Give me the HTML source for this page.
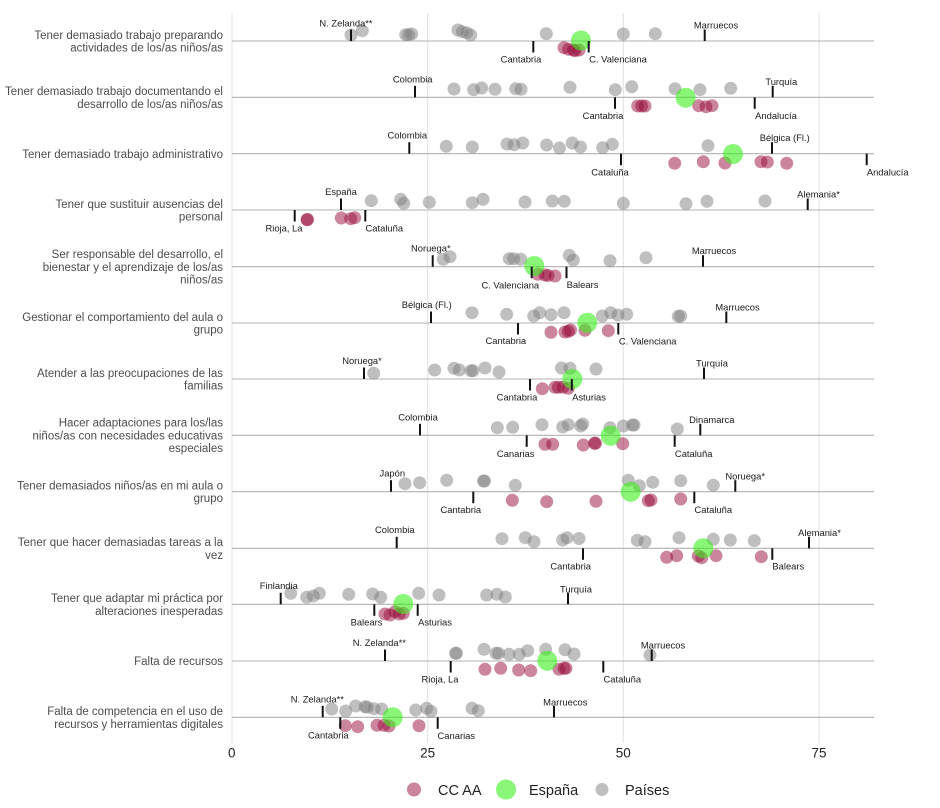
<!DOCTYPE html>
<html><head><meta charset="utf-8"><style>
html,body{margin:0;padding:0;background:#fff;}
svg{display:block;}
text{font-family:"Liberation Sans",Arial,sans-serif;}
.lab{font-size:11.5px;fill:#4d4d4d;text-anchor:end;}
.ann{font-size:9.4px;fill:#1a1a1a;text-anchor:middle;}
.ax{font-size:13.5px;fill:#222;text-anchor:middle;}
.leg{font-size:14.5px;fill:#222;}
.g{fill:#808080;fill-opacity:.5;}
.r{fill:#980b3c;fill-opacity:.5;}
.e{fill:#3cf01e;fill-opacity:.6;}
.tk{stroke:#111;stroke-width:2;}
</style></head><body>
<svg width="940" height="808" viewBox="0 0 940 808" xmlns="http://www.w3.org/2000/svg">
<g stroke="#e3e3e3" stroke-width="1.1">
<line x1="232" y1="13" x2="232" y2="743"/>
<line x1="427.7" y1="13" x2="427.7" y2="743"/>
<line x1="623.3" y1="13" x2="623.3" y2="743"/>
<line x1="819" y1="13" x2="819" y2="743"/>
</g>
<g stroke="#b0b0b0" stroke-width="1.1">
<line x1="232" y1="41" x2="874" y2="41"/>
<line x1="232" y1="97.3" x2="874" y2="97.3"/>
<line x1="232" y1="153.7" x2="874" y2="153.7"/>
<line x1="232" y1="210" x2="874" y2="210"/>
<line x1="232" y1="266.7" x2="874" y2="266.7"/>
<line x1="232" y1="323" x2="874" y2="323"/>
<line x1="232" y1="379" x2="874" y2="379"/>
<line x1="232" y1="435.3" x2="874" y2="435.3"/>
<line x1="232" y1="491.7" x2="874" y2="491.7"/>
<line x1="232" y1="548.3" x2="874" y2="548.3"/>
<line x1="232" y1="604.3" x2="874" y2="604.3"/>
<line x1="232" y1="661" x2="874" y2="661"/>
<line x1="232" y1="717.3" x2="874" y2="717.3"/>
</g>

<!-- left labels -->
<text class="lab" x="223" y="38.8">Tener demasiado trabajo preparando</text>
<text class="lab" x="223" y="51.5">actividades de los/as niños/as</text>
<text class="lab" x="223" y="95.1">Tener demasiado trabajo documentando el</text>
<text class="lab" x="223" y="107.8">desarrollo de los/as niños/as</text>
<text class="lab" x="223" y="157.8">Tener demasiado trabajo administrativo</text>
<text class="lab" x="223" y="207.8">Tener que sustituir ausencias del</text>
<text class="lab" x="223" y="220.5">personal</text>
<text class="lab" x="223" y="258.1">Ser responsable del desarrollo, el</text>
<text class="lab" x="223" y="270.8">bienestar y el aprendizaje de los/as</text>
<text class="lab" x="223" y="283.5">niños/as</text>
<text class="lab" x="223" y="320.8">Gestionar el comportamiento del aula o</text>
<text class="lab" x="223" y="333.5">grupo</text>
<text class="lab" x="223" y="376.8">Atender a las preocupaciones de las</text>
<text class="lab" x="223" y="389.5">familias</text>
<text class="lab" x="223" y="426.7">Hacer adaptaciones para los/las</text>
<text class="lab" x="223" y="439.4">niños/as con necesidades educativas</text>
<text class="lab" x="223" y="452.1">especiales</text>
<text class="lab" x="223" y="489.5">Tener demasiados niños/as en mi aula o</text>
<text class="lab" x="223" y="502.2">grupo</text>
<text class="lab" x="223" y="546.1">Tener que hacer demasiadas tareas a la</text>
<text class="lab" x="223" y="558.8">vez</text>
<text class="lab" x="223" y="602.1">Tener que adaptar mi práctica por</text>
<text class="lab" x="223" y="614.8">alteraciones inesperadas</text>
<text class="lab" x="223" y="665.1">Falta de recursos</text>
<text class="lab" x="223" y="715.1">Falta de competencia en el uso de</text>
<text class="lab" x="223" y="727.8">recursos y herramientas digitales</text>

<!-- grey points -->
<g class="g">
<circle cx="351" cy="35" r="6.5"/><circle cx="362.3" cy="30.7" r="6.5"/><circle cx="405.7" cy="34.7" r="6.5"/><circle cx="408.7" cy="34.7" r="6.5"/><circle cx="411.7" cy="34" r="6.5"/><circle cx="458" cy="30" r="6.5"/><circle cx="462.3" cy="31.7" r="6.5"/><circle cx="466.7" cy="32.7" r="6.5"/><circle cx="470.7" cy="35" r="6.5"/><circle cx="546.3" cy="33.7" r="6.5"/><circle cx="623.3" cy="34" r="6.5"/><circle cx="655.3" cy="33.7" r="6.5"/>

<circle cx="454" cy="89" r="6.5"/><circle cx="473.7" cy="89.7" r="6.5"/><circle cx="481.7" cy="88" r="6.5"/><circle cx="495" cy="89.3" r="6.5"/><circle cx="515.7" cy="88.7" r="6.5"/><circle cx="521" cy="89.3" r="6.5"/><circle cx="570" cy="87.3" r="6.5"/><circle cx="615.3" cy="89.7" r="6.5"/><circle cx="631.7" cy="86.7" r="6.5"/><circle cx="675" cy="88.7" r="6.5"/><circle cx="700" cy="89.7" r="6.5"/><circle cx="730.7" cy="88.3" r="6.5"/>

<circle cx="446.3" cy="146.3" r="6.5"/><circle cx="472.3" cy="147" r="6.5"/><circle cx="507" cy="144" r="6.5"/><circle cx="514" cy="144.7" r="6.5"/><circle cx="522.7" cy="143" r="6.5"/><circle cx="546.7" cy="145" r="6.5"/><circle cx="559.5" cy="148" r="6.5"/><circle cx="572.3" cy="143" r="6.5"/><circle cx="580.5" cy="147" r="6.5"/><circle cx="602.7" cy="147.7" r="6.5"/><circle cx="612.3" cy="144.3" r="6.5"/><circle cx="708" cy="145.7" r="6.5"/>

<circle cx="371.3" cy="200.7" r="6.5"/><circle cx="400.7" cy="199.3" r="6.5"/><circle cx="403.7" cy="203.3" r="6.5"/><circle cx="429.3" cy="202.3" r="6.5"/><circle cx="472.3" cy="202.7" r="6.5"/><circle cx="483" cy="199.3" r="6.5"/><circle cx="525" cy="202" r="6.5"/><circle cx="552.3" cy="201" r="6.5"/><circle cx="564.3" cy="201.3" r="6.5"/><circle cx="623.3" cy="203.3" r="6.5"/><circle cx="686" cy="203.7" r="6.5"/><circle cx="707" cy="201.3" r="6.5"/><circle cx="765" cy="201" r="6.5"/>

<circle cx="443.3" cy="259.3" r="6.5"/><circle cx="450" cy="256.7" r="6.5"/><circle cx="509.3" cy="258.7" r="6.5"/><circle cx="513.7" cy="258.7" r="6.5"/><circle cx="520.7" cy="259.3" r="6.5"/><circle cx="569.3" cy="255.3" r="6.5"/><circle cx="573.3" cy="260" r="6.5"/><circle cx="610" cy="260.7" r="6.5"/><circle cx="646" cy="257.7" r="6.5"/>

<circle cx="472" cy="312.7" r="6.5"/><circle cx="506.7" cy="314.3" r="6.5"/><circle cx="533.7" cy="316" r="6.5"/><circle cx="539.7" cy="312.7" r="6.5"/><circle cx="551" cy="314.7" r="6.5"/><circle cx="564" cy="312.7" r="6.5"/><circle cx="602.3" cy="316" r="6.5"/><circle cx="610.7" cy="312.7" r="6.5"/><circle cx="618" cy="315" r="6.5"/><circle cx="626.7" cy="314.3" r="6.5"/><circle cx="678.3" cy="316.3" r="6.5"/><circle cx="680.7" cy="316" r="6.5"/>

<circle cx="373.7" cy="373.3" r="6.5"/><circle cx="434.7" cy="370" r="6.5"/><circle cx="454" cy="368.3" r="6.5"/><circle cx="459.3" cy="370" r="6.5"/><circle cx="471" cy="370.7" r="6.5"/><circle cx="473" cy="370.7" r="6.5"/><circle cx="485" cy="368" r="6.5"/><circle cx="499" cy="372" r="6.5"/><circle cx="561.5" cy="368" r="6.5"/><circle cx="570" cy="368.3" r="6.5"/><circle cx="596" cy="369" r="6.5"/>

<circle cx="497.3" cy="427.7" r="6.5"/><circle cx="512.7" cy="427.3" r="6.5"/><circle cx="542" cy="424.7" r="6.5"/><circle cx="562.7" cy="427" r="6.5"/><circle cx="568.3" cy="424.7" r="6.5"/><circle cx="580.7" cy="426" r="6.5"/><circle cx="582.7" cy="424" r="6.5"/><circle cx="610" cy="427.7" r="6.5"/><circle cx="623.3" cy="426" r="6.5"/><circle cx="632.5" cy="425" r="6.5"/><circle cx="634" cy="425" r="6.5"/><circle cx="677.3" cy="429" r="6.5"/>

<circle cx="405" cy="483.7" r="6.5"/><circle cx="419.7" cy="482.7" r="6.5"/><circle cx="446.7" cy="480.3" r="6.5"/><circle cx="483.5" cy="481" r="6.5"/><circle cx="484.5" cy="481" r="6.5"/><circle cx="515.3" cy="485.3" r="6.5"/><circle cx="628.3" cy="480.3" r="6.5"/><circle cx="639.3" cy="485.7" r="6.5"/><circle cx="652.7" cy="482.3" r="6.5"/><circle cx="680.7" cy="480.7" r="6.5"/><circle cx="713.3" cy="485.3" r="6.5"/>

<circle cx="502" cy="538.7" r="6.5"/><circle cx="525.3" cy="537.7" r="6.5"/><circle cx="534" cy="541.7" r="6.5"/><circle cx="562.7" cy="540" r="6.5"/><circle cx="567" cy="537.7" r="6.5"/><circle cx="579" cy="538.5" r="6.5"/><circle cx="637.3" cy="540.3" r="6.5"/><circle cx="645" cy="541.7" r="6.5"/><circle cx="679" cy="537.7" r="6.5"/><circle cx="713.3" cy="539.3" r="6.5"/><circle cx="730.3" cy="540" r="6.5"/><circle cx="754.3" cy="540.7" r="6.5"/>

<circle cx="290.7" cy="593.3" r="6.5"/><circle cx="306.7" cy="597.3" r="6.5"/><circle cx="313.3" cy="596" r="6.5"/><circle cx="319.3" cy="593.3" r="6.5"/><circle cx="348.7" cy="594.3" r="6.5"/><circle cx="372.7" cy="594" r="6.5"/><circle cx="380.7" cy="597.3" r="6.5"/><circle cx="418.7" cy="593.3" r="6.5"/><circle cx="439" cy="595" r="6.5"/><circle cx="486.7" cy="595" r="6.5"/><circle cx="497" cy="594.3" r="6.5"/><circle cx="505.3" cy="597" r="6.5"/>

<circle cx="455.5" cy="653.3" r="6.5"/><circle cx="456.5" cy="653.3" r="6.5"/><circle cx="484" cy="649.3" r="6.5"/><circle cx="496" cy="653.3" r="6.5"/><circle cx="498.5" cy="653.3" r="6.5"/><circle cx="509" cy="654.3" r="6.5"/><circle cx="519.3" cy="654.3" r="6.5"/><circle cx="527.7" cy="650.7" r="6.5"/><circle cx="545.7" cy="649.3" r="6.5"/><circle cx="565" cy="649.8" r="6.5"/><circle cx="574" cy="654" r="6.5"/><circle cx="650" cy="655" r="6.5"/>

<circle cx="331.7" cy="709" r="6.5"/><circle cx="345.7" cy="711" r="6.5"/><circle cx="355.7" cy="706" r="6.5"/><circle cx="365" cy="706.7" r="6.5"/><circle cx="367.3" cy="707.3" r="6.5"/><circle cx="374" cy="708.7" r="6.5"/><circle cx="381.7" cy="709" r="6.5"/><circle cx="415.7" cy="710" r="6.5"/><circle cx="426.7" cy="708.3" r="6.5"/><circle cx="431" cy="711.3" r="6.5"/><circle cx="472" cy="708.3" r="6.5"/><circle cx="478.3" cy="710.7" r="6.5"/>
</g>

<!-- CCAA points -->
<g class="r">
<circle cx="564" cy="47.7" r="6.5"/><circle cx="568.5" cy="49.3" r="6.5"/><circle cx="573.5" cy="50" r="6.5"/><circle cx="575" cy="50.7" r="6.5"/><circle cx="579" cy="50" r="6.5"/>
<circle cx="637.7" cy="106" r="6.5"/><circle cx="641.7" cy="106" r="6.5"/><circle cx="645" cy="106" r="6.5"/><circle cx="698.7" cy="105.7" r="6.5"/><circle cx="706" cy="106.7" r="6.5"/><circle cx="712" cy="105.7" r="6.5"/>
<circle cx="674.7" cy="163.3" r="6.5"/><circle cx="703.3" cy="161.7" r="6.5"/><circle cx="725" cy="163" r="6.5"/><circle cx="761" cy="161.7" r="6.5"/><circle cx="767.3" cy="162" r="6.5"/><circle cx="786.7" cy="163.3" r="6.5"/>
<circle cx="307" cy="219.7" r="6.5"/><circle cx="307.5" cy="219.5" r="6.5"/><circle cx="341.3" cy="218" r="6.5"/><circle cx="350.7" cy="218.7" r="6.5"/><circle cx="354.7" cy="217.7" r="6.5"/>
<circle cx="538" cy="274.3" r="6.5"/><circle cx="545" cy="275" r="6.5"/><circle cx="548" cy="275.5" r="6.5"/><circle cx="555" cy="276" r="6.5"/>
<circle cx="551" cy="332.3" r="6.5"/><circle cx="565" cy="332" r="6.5"/><circle cx="568.3" cy="331.3" r="6.5"/><circle cx="570.5" cy="330" r="6.5"/><circle cx="585" cy="330.3" r="6.5"/><circle cx="608.3" cy="330.7" r="6.5"/>
<circle cx="542.3" cy="388.7" r="6.5"/><circle cx="555" cy="387.3" r="6.5"/><circle cx="558.3" cy="387.3" r="6.5"/><circle cx="563" cy="387.3" r="6.5"/><circle cx="568.3" cy="388.3" r="6.5"/>
<circle cx="545" cy="444.3" r="6.5"/><circle cx="552.7" cy="444.3" r="6.5"/><circle cx="583.3" cy="445" r="6.5"/><circle cx="594.5" cy="443.3" r="6.5"/><circle cx="595.5" cy="443.3" r="6.5"/><circle cx="622.7" cy="443.7" r="6.5"/>
<circle cx="512.3" cy="500.3" r="6.5"/><circle cx="546.7" cy="501.7" r="6.5"/><circle cx="596" cy="501.3" r="6.5"/><circle cx="648.3" cy="500.7" r="6.5"/><circle cx="651" cy="500" r="6.5"/><circle cx="680.7" cy="499" r="6.5"/>
<circle cx="666.7" cy="557.3" r="6.5"/><circle cx="676.7" cy="555.7" r="6.5"/><circle cx="698.3" cy="556" r="6.5"/><circle cx="701.7" cy="557.7" r="6.5"/><circle cx="716" cy="555.7" r="6.5"/><circle cx="761.3" cy="556.7" r="6.5"/>
<circle cx="385" cy="614" r="6.5"/><circle cx="390" cy="615" r="6.5"/><circle cx="395" cy="611.7" r="6.5"/><circle cx="399.3" cy="614" r="6.5"/><circle cx="403.3" cy="613.3" r="6.5"/>
<circle cx="485" cy="669.3" r="6.5"/><circle cx="500.7" cy="668.3" r="6.5"/><circle cx="518.7" cy="670" r="6.5"/><circle cx="530.7" cy="670.7" r="6.5"/><circle cx="559" cy="669.3" r="6.5"/><circle cx="564" cy="668.3" r="6.5"/><circle cx="566" cy="668.3" r="6.5"/>
<circle cx="345.3" cy="725.7" r="6.5"/><circle cx="357.7" cy="726.7" r="6.5"/><circle cx="377" cy="725.3" r="6.5"/><circle cx="384" cy="725.3" r="6.5"/><circle cx="389" cy="726" r="6.5"/><circle cx="419" cy="725.7" r="6.5"/>
</g>

<!-- España points -->
<g class="e">
<circle cx="581" cy="40.5" r="10"/>
<circle cx="685.7" cy="97.7" r="10"/>
<circle cx="733" cy="154" r="10"/>
<circle cx="534.3" cy="266" r="10"/>
<circle cx="587.3" cy="322.7" r="10"/>
<circle cx="572.3" cy="379" r="10"/>
<circle cx="610.7" cy="435.7" r="10"/>
<circle cx="630.7" cy="491.7" r="10"/>
<circle cx="703.3" cy="548.3" r="10"/>
<circle cx="403.3" cy="604" r="10"/>
<circle cx="547.3" cy="660.7" r="10"/>
<circle cx="392.7" cy="717.3" r="10"/>
</g>

<!-- ticks -->
<g class="tk">
<line x1="351" y1="29.5" x2="351" y2="41"/><line x1="704.7" y1="29.5" x2="704.7" y2="41"/>
<line x1="533.3" y1="41" x2="533.3" y2="52.5"/><line x1="588.7" y1="41" x2="588.7" y2="52.5"/>
<line x1="415" y1="85.8" x2="415" y2="97.3"/><line x1="772.7" y1="85.8" x2="772.7" y2="97.3"/>
<line x1="615" y1="97.3" x2="615" y2="108.8"/><line x1="754.7" y1="97.3" x2="754.7" y2="108.8"/>
<line x1="409.3" y1="142.2" x2="409.3" y2="153.7"/><line x1="772" y1="142.2" x2="772" y2="153.7"/>
<line x1="621" y1="153.7" x2="621" y2="165.2"/><line x1="866.7" y1="153.7" x2="866.7" y2="165.2"/>
<line x1="341" y1="198.5" x2="341" y2="210"/><line x1="807.7" y1="198.5" x2="807.7" y2="210"/>
<line x1="294.7" y1="210" x2="294.7" y2="221.5"/><line x1="365.3" y1="210" x2="365.3" y2="221.5"/>
<line x1="432.7" y1="255.2" x2="432.7" y2="266.7"/><line x1="703" y1="255.2" x2="703" y2="266.7"/>
<line x1="531.7" y1="266.7" x2="531.7" y2="278.2"/><line x1="566.5" y1="266.7" x2="566.5" y2="278.2"/>
<line x1="431" y1="311.5" x2="431" y2="323"/><line x1="726.3" y1="311.5" x2="726.3" y2="323"/>
<line x1="518" y1="323" x2="518" y2="334.5"/><line x1="618.3" y1="323" x2="618.3" y2="334.5"/>
<line x1="364" y1="367.5" x2="364" y2="379"/><line x1="704" y1="367.5" x2="704" y2="379"/>
<line x1="530" y1="379" x2="530" y2="390.5"/><line x1="571.8" y1="379" x2="571.8" y2="390.5"/>
<line x1="420" y1="423.8" x2="420" y2="435.3"/><line x1="700.3" y1="423.8" x2="700.3" y2="435.3"/>
<line x1="526.7" y1="435.3" x2="526.7" y2="446.8"/><line x1="674.7" y1="435.3" x2="674.7" y2="446.8"/>
<line x1="391" y1="480.2" x2="391" y2="491.7"/><line x1="735.3" y1="480.2" x2="735.3" y2="491.7"/>
<line x1="473.3" y1="491.7" x2="473.3" y2="503.2"/><line x1="694.3" y1="491.7" x2="694.3" y2="503.2"/>
<line x1="396.7" y1="536.8" x2="396.7" y2="548.3"/><line x1="809" y1="536.8" x2="809" y2="548.3"/>
<line x1="583" y1="548.3" x2="583" y2="559.8"/><line x1="772.3" y1="548.3" x2="772.3" y2="559.8"/>
<line x1="280.7" y1="592.8" x2="280.7" y2="604.3"/><line x1="568" y1="592.8" x2="568" y2="604.3"/>
<line x1="374.3" y1="604.3" x2="374.3" y2="615.8"/><line x1="417.7" y1="604.3" x2="417.7" y2="615.8"/>
<line x1="385" y1="649.5" x2="385" y2="661"/><line x1="651.7" y1="649.5" x2="651.7" y2="661"/>
<line x1="450.7" y1="661" x2="450.7" y2="672.5"/><line x1="603.3" y1="661" x2="603.3" y2="672.5"/>
<line x1="322.7" y1="705.8" x2="322.7" y2="717.3"/><line x1="554" y1="705.8" x2="554" y2="717.3"/>
<line x1="340.3" y1="717.3" x2="340.3" y2="728.8"/><line x1="437.7" y1="717.3" x2="437.7" y2="728.8"/>
</g>

<!-- annotation labels -->
<g class="ann">
<text x="346" y="26.4">N. Zelanda**</text>
<text x="716" y="28.7">Marruecos</text>
<text x="521" y="62.7">Cantabria</text>
<text x="618" y="62.4">C. Valenciana</text>

<text x="412.7" y="82.7">Colombia</text>
<text x="781.3" y="85.1">Turquía</text>
<text x="603" y="119.1">Cantabria</text>
<text x="776" y="119.1">Andalucía</text>

<text x="407.3" y="138.7">Colombia</text>
<text x="784.7" y="141.1">Bélgica (Fl.)</text>
<text x="610" y="175.4">Cataluña</text>
<text x="887.7" y="175.4">Andalucía</text>

<text x="341" y="195.1">España</text>
<text x="818.5" y="197.7">Alemania*</text>
<text x="284" y="231.7">Rioja, La</text>
<text x="384.3" y="231.7">Cataluña</text>

<text x="430.8" y="251.7">Noruega*</text>
<text x="714" y="254.1">Marruecos</text>
<text x="510.3" y="288.4">C. Valenciana</text>
<text x="582.5" y="288.1">Balears</text>

<text x="426.7" y="308.1">Bélgica (Fl.)</text>
<text x="737.5" y="310.4">Marruecos</text>
<text x="505.8" y="344.1">Cantabria</text>
<text x="647.7" y="344.4">C. Valenciana</text>

<text x="362" y="364.1">Noruega*</text>
<text x="712" y="366.7">Turquía</text>
<text x="517" y="400.7">Cantabria</text>
<text x="589" y="400.7">Asturias</text>

<text x="418" y="420.4">Colombia</text>
<text x="711.8" y="423.1">Dinamarca</text>
<text x="515.7" y="457.1">Canarias</text>
<text x="693.7" y="457.1">Cataluña</text>

<text x="392.3" y="476.7">Japón</text>
<text x="745.2" y="479.7">Noruega*</text>
<text x="460.8" y="513.1">Cantabria</text>
<text x="713.3" y="513.1">Cataluña</text>

<text x="394.8" y="533.1">Colombia</text>
<text x="819.5" y="536.1">Alemania*</text>
<text x="570.7" y="569.7">Cantabria</text>
<text x="788.3" y="569.7">Balears</text>

<text x="278.8" y="589.1">Finlandia</text>
<text x="576" y="592.4">Turquía</text>
<text x="366.5" y="625.7">Balears</text>
<text x="435" y="625.7">Asturias</text>

<text x="379.3" y="646.1">N. Zelanda**</text>
<text x="663" y="648.7">Marruecos</text>
<text x="440" y="682.4">Rioja, La</text>
<text x="622.3" y="682.4">Cataluña</text>

<text x="317.3" y="702.4">N. Zelanda**</text>
<text x="565.3" y="705.4">Marruecos</text>
<text x="328.3" y="738.4">Cantabria</text>
<text x="456.3" y="738.9">Canarias</text>
</g>

<!-- axis -->
<text class="ax" x="231.7" y="757.5">0</text>
<text class="ax" x="427.7" y="757.5">25</text>
<text class="ax" x="623.3" y="757.5">50</text>
<text class="ax" x="819" y="757.5">75</text>

<!-- legend -->
<circle cx="414" cy="789.5" r="7" class="r"/>
<text class="leg" x="438" y="795">CC AA</text>
<circle cx="506" cy="789.5" r="10" class="e"/>
<text class="leg" x="529" y="795">España</text>
<circle cx="602" cy="789.5" r="6.5" class="g"/>
<text class="leg" x="625" y="795">Países</text>
</svg>
</body></html>
